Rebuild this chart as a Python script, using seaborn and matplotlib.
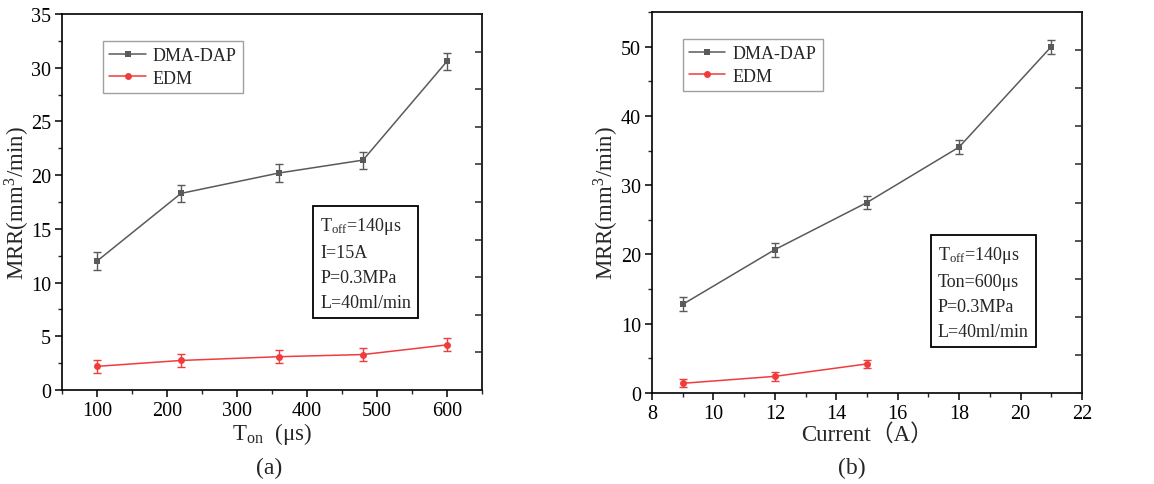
import numpy as np
import pandas as pd
import matplotlib
matplotlib.use("Agg")
import matplotlib.pyplot as plt
import seaborn as sns
from matplotlib.ticker import MultipleLocator

# ---- data ----
ton = [100, 220, 360, 480, 600]
ton_dma = [12.0, 18.3, 20.2, 21.4, 30.6]
ton_dma_err = [0.8, 0.8, 0.8, 0.8, 0.8]
ton_edm = [2.2, 2.75, 3.1, 3.3, 4.2]
ton_edm_err = [0.6, 0.6, 0.6, 0.6, 0.6]

cur = [9, 12, 15, 18, 21]
cur_dma = [12.8, 20.7, 27.5, 35.5, 50.0]
cur_dma_err = [1.0, 1.0, 1.0, 1.0, 1.0]
cur_edm_x = [9, 12, 15]
cur_edm = [1.4, 2.4, 4.2]
cur_edm_err = [0.6, 0.6, 0.6]

series_names = ["DMA-DAP", "EDM"]
colors = {"DMA-DAP": "#5a5a5a", "EDM": "#f03c3c"}
markers = {"DMA-DAP": "s", "EDM": "o"}

sns.set_theme(style="ticks")
plt.rcParams["font.family"] = ["Liberation Serif", "Noto Sans CJK SC"]
plt.rcParams["mathtext.fontset"] = "stix"

fig = plt.figure(figsize=(11.54, 4.85), dpi=100)
W, H = 1154, 485
axA = fig.add_axes([62 / W, 1 - 391 / H, 420 / W, 376 / H])
axB = fig.add_axes([652 / W, 1 - 394 / H, 430 / W, 381 / H])


def draw(ax, xs_list, ys_list, es_list, anchor):
    rows = []
    for name, xs, ys in zip(series_names, xs_list, ys_list):
        for x, y in zip(xs, ys):
            rows.append({"x": x, "y": y, "series": name})
    df = pd.DataFrame(rows)
    sns.lineplot(data=df, x="x", y="y", hue="series", style="series",
                 palette=colors, markers=markers, dashes=False, ax=ax,
                 linewidth=1.1, markersize=5, markeredgewidth=0, legend=True)
    for name, xs, ys, es in zip(series_names, xs_list, ys_list, es_list):
        ax.errorbar(xs, ys, yerr=es, fmt="none", ecolor=colors[name],
                    elinewidth=1.0, capsize=3, capthick=1.0, zorder=3)
    for s in ax.spines.values():
        s.set_linewidth(1.2)
        s.set_color("black")
    ax.tick_params(axis="both", which="major", direction="out", length=5,
                   width=1.1, labelsize=14.5, colors="black", top=False, right=False,
                   pad=3)
    ax.tick_params(axis="both", which="minor", direction="out", length=3,
                   width=1.0, top=False, right=False)
    leg = ax.legend(loc="upper left", bbox_to_anchor=anchor, fontsize=13,
                    frameon=True, fancybox=False, handlelength=2.0,
                    borderpad=0.35, labelspacing=0.3, handletextpad=0.4,
                    borderaxespad=0)
    leg.get_frame().set_edgecolor("#888888")
    leg.get_frame().set_linewidth(1.0)


draw(axA, [ton, ton], [ton_dma, ton_edm], [ton_dma_err, ton_edm_err], (0.098, 0.928))
axA.set_xlim(50, 650)
axA.set_ylim(0, 35)
axA.xaxis.set_major_locator(MultipleLocator(100))
axA.xaxis.set_minor_locator(MultipleLocator(50))
axA.yaxis.set_major_locator(MultipleLocator(5))
axA.yaxis.set_minor_locator(MultipleLocator(2.5))
axA.set_xlabel(r"T$_{\mathregular{on}}$  (μs)", fontsize=16.5, labelpad=0)
axA.set_ylabel(r"MRR(mm$^{\mathregular{3}}$/min)", fontsize=16.5)
axA.yaxis.set_label_coords(-0.074, 0.5)
axA.text(0.615, 0.465, "T$_{\\mathregular{off}}$=140μs\nI=15A\nP=0.3MPa\nL=40ml/min",
         transform=axA.transAxes, fontsize=13, va="top", ha="left", linespacing=1.6,
         bbox=dict(boxstyle="square,pad=0.4", fc="white", ec="black", lw=1.3))

draw(axB, [cur, cur_edm_x], [cur_dma, cur_edm], [cur_dma_err, cur_edm_err], (0.072, 0.929))
axB.set_xlim(8, 22)
axB.set_ylim(0, 55)
axB.xaxis.set_major_locator(MultipleLocator(2))
axB.xaxis.set_minor_locator(MultipleLocator(1))
axB.yaxis.set_major_locator(MultipleLocator(10))
axB.yaxis.set_minor_locator(MultipleLocator(5))
axB.set_xlabel("Current（A）", fontsize=16.5, labelpad=0)
axB.set_ylabel(r"MRR(mm$^{\mathregular{3}}$/min)", fontsize=16.5)
axB.yaxis.set_label_coords(-0.074, 0.5)
axB.text(0.665, 0.39, "T$_{\\mathregular{off}}$=140μs\nTon=600μs\nP=0.3MPa\nL=40ml/min",
         transform=axB.transAxes, fontsize=13, va="top", ha="left", linespacing=1.6,
         bbox=dict(boxstyle="square,pad=0.4", fc="white", ec="black", lw=1.3))

# mirrored right-side ticks (Origin style)
for ax, top in [(axA, 35), (axB, 55)]:
    tw = ax.twinx()
    tw.set_ylim(0, top)
    tw.yaxis.set_major_locator(MultipleLocator(top / 10))
    tw.tick_params(axis="y", direction="in", length=5, width=1.1, labelright=False)
    tw.yaxis.set_minor_locator(plt.NullLocator())
    for s in tw.spines.values():
        s.set_visible(False)

fig.text(269 / W, 1 - 468 / H, "(a)", fontsize=17, ha="center", va="center")
fig.text(852 / W, 1 - 468 / H, "(b)", fontsize=17, ha="center", va="center")

fig.savefig("out.png", dpi=100)
